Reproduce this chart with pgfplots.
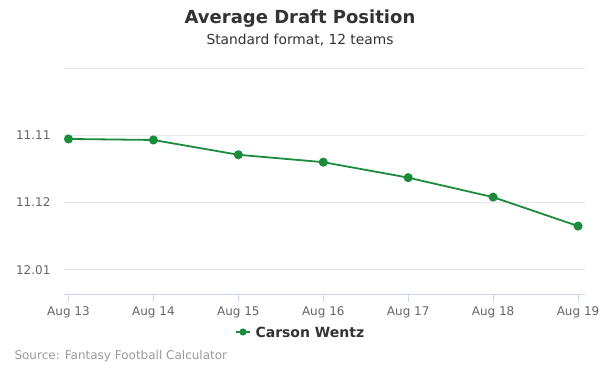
\documentclass[border=0pt]{standalone}
\usepackage{pgfplots}
\pgfplotsset{compat=1.18}
\usepackage{fontspec}
\setmainfont{DejaVu Sans}
\definecolor{lgreen}{HTML}{1C8C3C}
\definecolor{gridc}{HTML}{E6E6E6}
\definecolor{axc}{HTML}{CCD6EB}
\definecolor{tickc}{HTML}{666666}
\definecolor{titc}{HTML}{333333}
\definecolor{srcc}{HTML}{999999}
\begin{document}
\begin{tikzpicture}[x=1pt,y=1pt]
\path[use as bounding box] (0,0) rectangle (600,375);
\begin{axis}[
  at={(64pt,81pt)}, anchor=south west,
  scale only axis, width=521pt, height=226pt,
  xmin=-0.053, xmax=6.082,
  ymin=0, ymax=3.36, y dir=reverse,
  xtick={0,1,2,3,4,5,6},
  xticklabels={Aug 13,Aug 14,Aug 15,Aug 16,Aug 17,Aug 18,Aug 19},
  ytick={0,1,2,3},
  yticklabels={,11.11,11.12,12.01},
  ymajorgrids, major grid style={gridc, line width=0.75pt},
  axis x line*=bottom,
  axis y line*=left,
  x axis line style={draw=axc, line width=0.75pt, -},
  y axis line style={draw=none},
  ytick style={draw=none},
  xtick style={draw=axc, line width=0.75pt},
  xtick align=outside,
  major tick length=8pt,
  tick label style={font=\fontsize{12}{14}\selectfont, text=tickc},
  yticklabel style={xshift=-10pt},
  xticklabel style={yshift=-1pt},
  clip=false,
]
\addplot[lgreen, line width=1.8pt, mark=*, mark size=3.6pt, mark options={fill=lgreen, draw=lgreen}]
coordinates {(0,1.055) (1,1.07) (2,1.29) (3,1.40) (4,1.63) (5,1.92) (6,2.35)};
\end{axis}
\node[font=\fontsize{18}{21}\selectfont\bfseries, text=titc] at (300,356) {Average Draft Position};
\node[font=\fontsize{13.8}{16}\selectfont, text=titc] at (300,335) {Standard format, 12 teams};
\draw[lgreen, line width=1.8pt] (236,43) -- (250,43);
\fill[lgreen] (243,43) circle (3.6pt);
\node[font=\fontsize{14}{16}\selectfont\bfseries, text=titc, anchor=west] at (252,43) {Carson Wentz};
\node[font=\fontsize{12}{14}\selectfont, text=srcc, anchor=west] at (11,19) {Source: Fantasy Football Calculator};
\end{tikzpicture}
\end{document}
